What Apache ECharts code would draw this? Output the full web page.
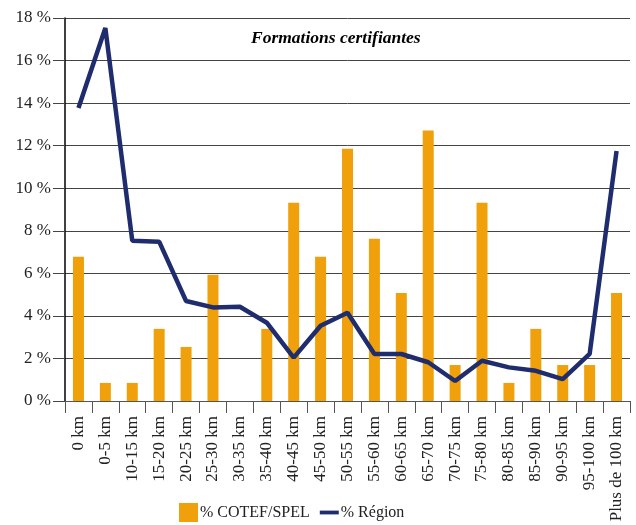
<!DOCTYPE html>
<html>
<head>
<meta charset="utf-8">
<script src="https://cdn.jsdelivr.net/npm/echarts@6/dist/echarts.min.js"></script>
<style>
  html, body { margin: 0; padding: 0; background: #fff; }
  #chart { width: 636px; height: 525px; }
</style>
</head>
<body>
<div id="chart"></div>
<script>
// distance bands
var categories = ["0 km", "0-5 km", "10-15 km", "15-20 km", "20-25 km", "25-30 km",
  "30-35 km", "35-40 km", "40-45 km", "45-50 km", "50-55 km", "55-60 km",
  "60-65 km", "65-70 km", "70-75 km", "75-80 km", "80-85 km", "85-90 km",
  "90-95 km", "95-100 km", "Plus de 100 km"];

// % COTEF/SPEL (bars)
var cotefValues = [6.78, 0.85, 0.85, 3.39, 2.54, 5.93, 0, 3.39, 9.32, 6.78, 11.86,
  7.63, 5.08, 12.71, 1.69, 9.32, 0.85, 3.39, 1.69, 1.69, 5.08];

// % Région (line)
var regionValues = [13.77, 17.53, 7.53, 7.49, 4.70, 4.40, 4.43, 3.68, 2.04, 3.54, 4.15,
  2.21, 2.21, 1.82, 0.94, 1.89, 1.58, 1.42, 1.03, 2.21, 11.75];

var yTicks = { min: 0, max: 18, interval: 2 };

var serif = "Liberation Serif, Times New Roman, serif";
var orange = "#F0A00A";
var navy = "#1F2D6E";

var chart = echarts.init(document.getElementById("chart"), null, { renderer: "canvas" });
chart.setOption({
  animation: false,
  textStyle: { fontFamily: serif, color: "#222" },
  title: {
    text: "Formations certifiantes",
    left: 251, top: 29, padding: 0,
    textStyle: { fontFamily: serif, fontSize: 17.5, fontStyle: "italic", fontWeight: "bold", color: "#000" }
  },
  legend: {
    top: 503, left: 179, padding: 0,
    itemWidth: 19, itemHeight: 19, itemGap: 10,
    textStyle: { fontFamily: serif, fontSize: 16, color: "#222", padding: [0, 0, 0, -3] },
    data: [
      { name: "% COTEF/SPEL", icon: "rect" },
      // thin bar as the line key
      { name: "% Région", icon: "path://M0,8L20,8L20,12L0,12Z" }
    ]
  },
  grid: { left: 65, right: 6, top: 18, bottom: 124, containLabel: false },
  xAxis: {
    type: "category",
    data: categories,
    boundaryGap: true,
    axisLine: { lineStyle: { color: "#555", width: 1 } },
    axisTick: { show: true, length: 12, alignWithLabel: false, lineStyle: { color: "#555" } },
    axisLabel: { rotate: 90, interval: 0, margin: 15, fontSize: 17, color: "#222", fontFamily: serif }
  },
  yAxis: {
    type: "value",
    min: yTicks.min, max: yTicks.max, interval: yTicks.interval,
    axisLine: { show: true, lineStyle: { color: "#000", width: 1.5 } },
    axisTick: { show: true, length: 12, lineStyle: { color: "#444" } },
    axisLabel: { margin: 14, fontSize: 17, color: "#222", fontFamily: serif,
      formatter: function (v) { return v + " %"; } },
    splitLine: { lineStyle: { color: "#444", width: 1 } }
  },
  series: [
    {
      name: "% COTEF/SPEL",
      type: "bar",
      data: cotefValues,
      barWidth: 11,
      itemStyle: { color: orange }
    },
    {
      name: "% Région",
      type: "line",
      data: regionValues,
      symbol: "none",
      lineStyle: { color: navy, width: 4.5 },
      itemStyle: { color: navy }
    }
  ]
});
</script>
</body>
</html>
